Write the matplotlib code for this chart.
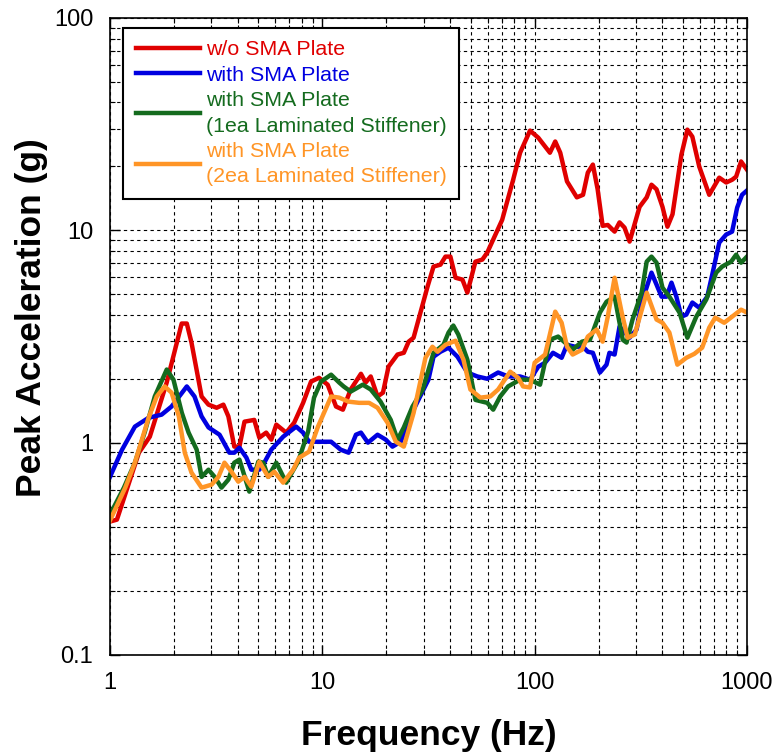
import matplotlib
matplotlib.use("Agg")
import matplotlib.pyplot as plt
from matplotlib.ticker import FuncFormatter, LogLocator

plt.rcParams['font.family'] = ['Liberation Sans', 'DejaVu Sans']

# w/o SMA plate
f_red = [1.0, 1.078, 1.368, 1.54, 1.85, 2.176, 2.30, 2.42, 2.70, 2.91, 3.18, 3.42, 3.61, 3.85,
         4.07, 4.30, 4.78, 5.05, 5.44, 5.75, 6.07, 6.76, 7.37, 8.12, 8.85, 9.65, 10.6, 11.6,
         12.5, 13.6, 15.2, 16.0, 16.9, 18.2, 19.3, 20.5, 22.6, 24.2, 25.5, 26.9, 31.3, 33.4,
         36.0, 38.0, 40.1, 42.4, 45.7, 48.2, 52.6, 56.7, 59.8, 70.3, 79.2, 85.4, 95.1, 104,
         118, 125, 132, 142, 158, 169, 178, 188, 198, 209, 221, 238, 251, 265, 280, 312, 337,
         355, 375, 400, 422, 446, 491, 524, 553, 596, 664, 740, 798, 851, 889, 938, 1000]
a_red = [0.425, 0.434, 0.897, 1.067, 1.92, 3.64, 3.64, 2.96, 1.65, 1.51, 1.46, 1.51, 1.33, 0.958,
         0.958, 1.256, 1.28, 1.056, 1.115, 1.033, 1.216, 1.115, 1.242, 1.54, 1.94, 2.02, 1.875, 1.48,
         1.43, 1.78, 2.11, 1.92, 2.05, 1.65, 1.72, 2.28, 2.60, 2.65, 2.99, 3.12, 5.43, 6.75,
         6.89, 7.52, 7.52, 5.98, 5.86, 5.09, 7.12, 7.28, 7.85, 11.2, 17.3, 23.2, 29.5, 27.3,
         23.2, 26.2, 23.2, 17.0, 14.3, 14.7, 18.7, 20.4, 15.6, 10.5, 10.6, 9.86, 10.9, 10.3, 8.85, 12.9, 14.3,
         16.4, 15.6, 12.9, 10.4, 11.9, 22.7, 29.8, 27.6, 19.95, 14.7, 17.7, 16.8, 17.3, 17.9, 21.1, 19.3]

# with SMA plate
f_blue = [1.0, 1.14, 1.31, 1.52, 1.75, 1.95, 2.30, 2.50, 2.70, 2.91, 3.28, 3.65, 3.85, 4.07,
          4.39, 4.63, 5.05, 5.33, 5.75, 6.54, 7.53, 8.12, 8.66, 11.0, 12.2, 13.3, 14.4, 15.2,
          16.4, 18.2, 19.9, 21.4, 23.4, 26.9, 31.6, 33.4, 36.0, 39.3, 43.3, 48.2, 53.7, 59.8,
          67.3, 75.0, 85.4, 95.1, 104, 112, 122, 134, 142, 155, 169, 178, 188, 203, 218, 225,
          238, 251, 280, 302, 319, 355, 375, 396, 418, 441, 465, 491, 518, 553, 596, 650, 686,
          740, 798, 851, 899, 948, 1000]
a_blue = [0.69, 0.927, 1.19, 1.31, 1.355, 1.48, 1.84, 1.65, 1.33, 1.18, 1.09, 0.897, 0.897, 0.947,
          0.85, 0.746, 0.746, 0.805, 0.927, 1.067, 1.19, 1.115, 1.01, 1.01, 0.927, 0.897, 1.09, 1.115,
          1.0, 1.09, 1.033, 0.958, 1.01, 1.43, 1.98, 2.54, 2.68, 2.80, 2.54, 2.14, 2.05, 2.00,
          2.14, 2.05, 2.05, 1.98, 2.28, 2.38, 2.65, 2.51, 2.89, 2.83, 2.83, 2.68, 2.65, 2.14, 2.33, 2.65,
          2.60, 3.52, 3.12, 3.41, 4.57, 6.32, 5.55, 4.87, 4.87, 5.67, 4.87, 3.92, 4.01, 4.57, 4.32, 4.87, 6.18,
          8.75, 9.55, 9.86, 12.8, 14.7, 15.4]

# with SMA plate, 1ea laminated stiffener
f_green = [1.0, 1.163, 1.31, 1.46, 1.625, 1.85, 1.99, 2.18, 2.345, 2.56, 2.70, 2.91, 3.11, 3.35,
           3.61, 3.85, 4.07, 4.53, 4.995, 5.27, 5.56, 6.07, 6.76, 7.69, 8.57, 9.14, 9.86, 11.0,
           12.0, 12.6, 13.6, 15.5, 16.9, 18.8, 21.0, 22.6, 24.2, 26.6, 29.7, 33.4, 37.2, 39.3,
           41.4, 43.7, 48.2, 52.6, 59.8, 63.8, 68.8, 75.0, 85.4, 95.1, 106, 118, 129, 139, 151,
           167, 182, 203, 218, 238, 260, 271, 289, 319, 337, 355, 375, 400, 431, 481, 524, 577,
           643, 716, 764, 842, 889, 938, 1000]
a_green = [0.458, 0.614, 0.805, 1.127, 1.65, 2.21, 1.98, 1.38, 1.115, 0.927, 0.69, 0.746, 0.69, 0.614,
           0.67, 0.805, 0.832, 0.588, 0.814, 0.805, 0.69, 0.805, 0.648, 0.814, 1.127, 1.63, 1.94, 2.09,
           1.92, 1.84, 1.74, 1.875, 1.78, 1.56, 1.28, 1.033, 1.18, 1.48, 1.78, 2.65, 2.89, 3.30,
           3.56, 3.23, 2.46, 1.59, 1.54, 1.43, 1.65, 1.84, 1.98, 1.98, 1.875, 3.05, 3.16, 2.96, 2.74,
           2.99, 3.05, 4.10, 4.61, 4.87, 3.05, 2.96, 3.80, 5.09, 7.12, 7.52, 7.04, 5.37, 4.87, 4.10, 3.12, 3.92,
           4.72, 6.32, 6.75, 7.12, 7.68, 7.04, 7.52]

# with SMA plate, 2ea laminated stiffener
f_orange = [1.0, 1.18, 1.31, 1.52, 1.66, 1.81, 1.95, 2.11, 2.25, 2.42, 2.70, 3.01, 3.24, 3.46,
            3.73, 4.02, 4.30, 4.63, 5.05, 5.56, 5.94, 6.54, 7.29, 7.78, 8.66, 9.54, 11.0, 12.0,
            13.3, 14.9, 16.6, 18.2, 20.3, 22.2, 24.2, 26.9, 30.6, 33.0, 34.9, 38.0, 42.4, 46.2,
            49.8, 55.5, 61.8, 67.3, 76.7, 83.6, 88.2, 95.1, 100, 112, 125, 134, 142, 151, 167,
            178, 196, 209, 221, 238, 257, 274, 296, 337, 375, 400, 431, 470, 518, 565, 615, 664,
            709, 781, 851, 938, 1000]
a_orange = [0.43, 0.614, 0.805, 1.31, 1.65, 1.84, 1.72, 1.33, 0.897, 0.723, 0.614, 0.634, 0.69, 0.805,
            0.73, 0.655, 0.69, 0.621, 0.814, 0.69, 0.73, 0.648, 0.746, 0.85, 0.907, 1.19, 1.65, 1.63,
            1.56, 1.54, 1.54, 1.46, 1.24, 1.01, 0.958, 1.38, 2.51, 2.83, 2.68, 2.89, 3.02, 2.46,
            1.78, 1.63, 1.65, 1.78, 2.16, 2.02, 1.84, 1.82, 2.38, 2.60, 4.14, 3.67, 2.83, 2.60, 2.74,
            3.16, 3.41, 2.99, 3.92, 5.98, 4.10, 3.12, 3.23, 5.09, 3.80, 3.67, 3.30, 2.33, 2.51, 2.62, 2.80, 3.48,
            3.88, 3.67, 3.92, 4.23, 4.10]

labels = ['w/o SMA Plate',
          'with SMA Plate',
          'with SMA Plate\n(1ea Laminated Stiffener)',
          'with SMA Plate\n(2ea Laminated Stiffener)']
colors = ['#e00000', '#0000e0', '#146b1e', '#ff9526']

fig = plt.figure(figsize=(7.79, 7.56), dpi=100)
ax = fig.add_axes([0.1412, 0.1336, 0.8177, 0.8426])

series = [(f_red, a_red), (f_blue, a_blue), (f_green, a_green), (f_orange, a_orange)]
for (f, a), lab, c in zip(series, labels, colors):
    ax.plot(f, a, color=c, lw=3.2, label=lab)

ax.set_xscale('log')
ax.set_yscale('log')
ax.set_xlim(1, 1000)
ax.set_ylim(0.1, 100)

fmt = FuncFormatter(lambda v, p: '%g' % v)
ax.xaxis.set_major_formatter(fmt)
ax.yaxis.set_major_formatter(fmt)
ax.xaxis.set_minor_locator(LogLocator(base=10, subs=range(2, 10)))
ax.yaxis.set_minor_locator(LogLocator(base=10, subs=range(2, 10)))

ax.grid(which='both', color='black', lw=0.8, linestyle=(0, (3, 3)))
ax.tick_params(which='both', direction='in', top=True, right=True, labelsize=17)
ax.tick_params(which='major', length=7, width=1)
ax.tick_params(which='minor', length=3.5, width=0.8)
ax.tick_params(axis='x', pad=12)
ax.tick_params(axis='y', pad=12)
for s in ax.spines.values():
    s.set_linewidth(1.2)

ax.set_xlabel('Frequency (Hz)', fontsize=25.5, fontweight='bold', labelpad=18)
ax.set_ylabel('Peak Acceleration (g)', fontsize=25.5, fontweight='bold')
ax.yaxis.set_label_coords(-0.097, 0.529)

leg = ax.legend(loc='upper left', bbox_to_anchor=(0.02, 0.985), fontsize=15.4,
                labelcolor='linecolor', frameon=True, fancybox=False,
                handlelength=3.0, handletextpad=0.28, borderpad=0.6, labelspacing=0.3,
                borderaxespad=0)
for t in leg.get_texts():
    t.set_linespacing(1.42)
leg.get_frame().set_edgecolor('black')
leg.get_frame().set_linewidth(1.5)
leg.get_frame().set_alpha(1)

fig.savefig('out.png', dpi=100)
